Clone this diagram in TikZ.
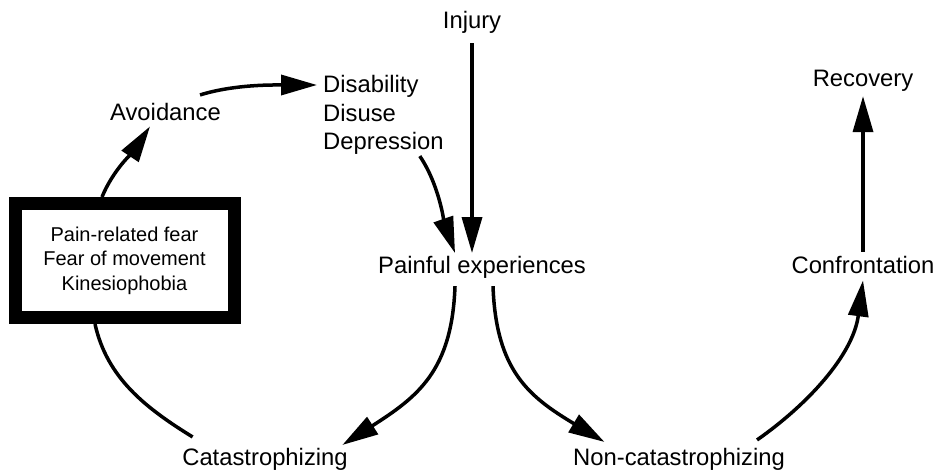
\documentclass[tikz,border=0pt]{standalone}
\usepackage{fontspec}
\setmainfont{Liberation Sans}
\usetikzlibrary{arrows.meta,calc}
\begin{document}
\begin{tikzpicture}[x=1pt,y=-1pt,
  lbl/.style={inner sep=0pt, font=\fontsize{23.8}{28.5}\selectfont},
  conn/.style={line width=3.5pt},
  arr/.style={conn, -{Triangle[length=36pt,width=20pt]}},
  fearbox/.style={draw, line width=13pt, minimum width=219pt, minimum height=114pt, inner sep=0pt, align=center, font=\fontsize{20}{24.5}\selectfont}
]
\useasboundingbox (0,0) rectangle (941,470);
\node[lbl,anchor=base] (inj) at (472,29) {Injury};
\node[lbl,anchor=north west,align=left] (dis) at (323,75.5) {Disability\\Disuse\\Depression};
\node[lbl,anchor=base] (av) at (165.5,121) {Avoidance};
\node[lbl,anchor=base] (pe) at (482,273) {Painful experiences};
\node[lbl,anchor=base] (conf) at (863,273) {Confrontation};
\node[lbl,anchor=base] (rec) at (863,87) {Recovery};
\node[lbl,anchor=base] (cat) at (265,465) {Catastrophizing};
\node[lbl,anchor=base] (nc) at (679,465) {Non-catastrophizing};
\node[fearbox] (box) at (124.5,260.5) {Pain-related fear\\Fear of movement\\Kinesiophobia};

\draw[arr] ($(box.north)+(-22.5,0)$) .. controls +(11,-27) and +(-16,24) .. ($(av.south)+(-15.5,5)$);
\draw[arr] ($(av.north east)+(-21,-8.6)$) .. controls +(35,-11) and +(-40,0) .. ($(dis.north west)+(-6,9.5)$);
\draw[arr] ($(dis.south east)+(-24,1)$) .. controls +(19,28) and +(-11,-32) .. ($(pe.north)+(-27,-2.5)$);
\draw[arr] ($(inj.south)+(0,9)$) -- ($(inj.south |- pe.north)+(0,-2.5)$);
\draw[arr] ($(pe.south)+(-27,8)$) .. controls +(-3,85) and +(75,-48) .. ($(cat.north east)+(-5.5,-2.6)$);
\draw[conn] ($(box.south)+(-29.5,0)$) .. controls +(12,54) and +(-47,-29) .. ($(cat.north west)+(10.5,-10.6)$);
\draw[arr] ($(pe.south)+(11,8)$) .. controls +(3,85) and +(-75,-45) .. ($(nc.north west)+(31.5,-5.6)$);
\draw[arr] ($(nc.north east)+(-28,-7.6)$) .. controls +(50,-35) and +(-10,75) .. ($(conf.south)+(0,7)$);
\draw[arr] ($(conf.north)+(0,-3.6)$) -- ($(rec.south)+(0,4)$);
\end{tikzpicture}
\end{document}
